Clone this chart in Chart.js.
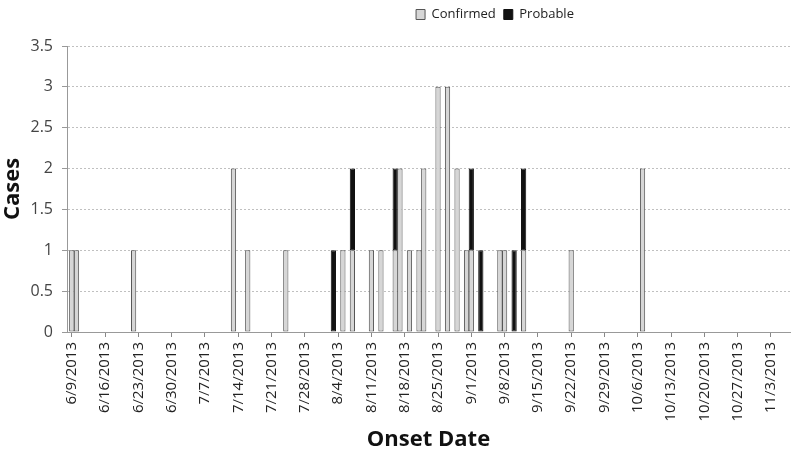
<!DOCTYPE html>
<html>
<head>
<meta charset="utf-8">
<script src="https://cdn.jsdelivr.net/npm/chart.js@4.4.1/dist/chart.umd.min.js"></script>
<style>
  html, body { margin: 0; padding: 0; background: #fff; }
  #wrap { width: 800px; height: 454px; }
</style>
</head>
<body>
<div id="wrap"><canvas id="chart"></canvas></div>
<script>
// onset dates that have at least one case
const onsetDates = ['6/9/2013', '6/10/2013', '6/22/2013', '7/13/2013', '7/16/2013', '7/24/2013',
  '8/3/2013', '8/5/2013', '8/7/2013', '8/11/2013', '8/13/2013', '8/16/2013', '8/17/2013',
  '8/19/2013', '8/21/2013', '8/22/2013', '8/25/2013', '8/27/2013', '8/29/2013', '8/31/2013',
  '9/1/2013', '9/3/2013', '9/7/2013', '9/8/2013', '9/10/2013', '9/12/2013', '9/22/2013', '10/7/2013'];
const confirmed = [1, 1, 1, 2, 1, 1, 0, 1, 1, 1, 1, 1, 2, 1, 1, 2, 3, 3, 2, 1, 1, 0, 1, 1, 0, 1, 1, 2];
const probable  = [0, 0, 0, 0, 0, 0, 1, 0, 1, 0, 0, 1, 0, 0, 0, 0, 0, 0, 0, 0, 1, 1, 0, 0, 1, 1, 0, 0];

// weekly axis labels and axis span
const tickDates = ['6/9/2013', '6/16/2013', '6/23/2013', '6/30/2013', '7/7/2013', '7/14/2013',
  '7/21/2013', '7/28/2013', '8/4/2013', '8/11/2013', '8/18/2013', '8/25/2013', '9/1/2013',
  '9/8/2013', '9/15/2013', '9/22/2013', '9/29/2013', '10/6/2013', '10/13/2013', '10/20/2013',
  '10/27/2013', '11/3/2013'];
const axisRange = ['6/8/2013', '11/7/2013'];

const FONT = "'Open Sans', sans-serif";
Chart.defaults.font.family = FONT;

// day number counted from the first tick date
const dayOf = s => {
  const [m, d, y] = s.split('/').map(Number);
  return Math.round((Date.UTC(y, m - 1, d) - Date.UTC(2013, 5, 9)) / 864e5);
};

const points = vals => onsetDates
  .map((d, i) => ({ x: dayOf(d), y: vals[i] }))
  .filter(p => p.y > 0);

// legend sits a bit right of centre and takes the full top band
const legendBox = {
  id: 'legendBox',
  beforeInit(chart) {
    const fit = chart.legend.fit;
    chart.legend.fit = function () {
      fit.call(this);
      this.height = 46;
    };
  },
  afterLayout(chart) {
    chart.legend.left += 100;
    chart.legend.right += 100;
  }
};

new Chart(document.getElementById('chart'), {
  type: 'bar',
  data: {
    datasets: [
      {
        label: 'Confirmed',
        data: points(confirmed),
        backgroundColor: '#d6d6d6',
        borderColor: '#555',
        borderWidth: 1,
        borderSkipped: false
      },
      {
        label: 'Probable',
        data: points(probable),
        backgroundColor: '#111',
        borderColor: '#111',
        borderWidth: 1,
        borderSkipped: false
      }
    ]
  },
  options: {
    responsive: true,
    maintainAspectRatio: false,
    animation: false,
    barPercentage: 1.1,
    categoryPercentage: 1,
    layout: { padding: { left: 0, right: 10, top: 0, bottom: 0 } },
    plugins: {
      tooltip: { enabled: false },
      legend: {
        position: 'top',
        labels: {
          boxWidth: 9,
          boxHeight: 10,
          padding: 8,
          color: '#222',
          font: { family: FONT, size: 13 }
        }
      }
    },
    scales: {
      x: {
        type: 'linear',
        stacked: true,
        offset: false,
        min: dayOf(axisRange[0]),
        max: dayOf(axisRange[1]),
        afterBuildTicks: s => { s.ticks = tickDates.map(d => ({ value: dayOf(d) })); },
        afterFit: s => { s.height = 122; },
        ticks: {
          autoSkip: false,
          minRotation: 90,
          maxRotation: 90,
          padding: 5,
          color: '#222',
          font: { family: FONT, size: 15 },
          callback: (v, i) => tickDates[i]
        },
        grid: { drawOnChartArea: false, drawTicks: true, tickLength: 5, tickColor: '#888', offset: false },
        border: { color: '#999', width: 1 },
        title: {
          display: true,
          text: 'Onset Date',
          color: '#111',
          font: { family: FONT, size: 22, weight: 'bold' },
          padding: { top: 0, bottom: 1 }
        }
      },
      y: {
        stacked: true,
        min: 0,
        max: 3.5,
        afterFit: s => { s.width = 67; },
        ticks: {
          stepSize: 0.5,
          padding: 9,
          color: '#444',
          font: { family: FONT, size: 16 },
          callback: v => String(v)
        },
        grid: { color: '#c0c0c0', tickLength: 5, tickColor: '#999' },
        border: { color: '#999', width: 1, dash: [2, 2] },
        title: {
          display: true,
          text: 'Cases',
          color: '#111',
          font: { family: FONT, size: 22, weight: 'bold' },
          padding: { top: 0, bottom: 0 }
        }
      }
    }
  },
  plugins: [legendBox]
});
</script>
</body>
</html>
